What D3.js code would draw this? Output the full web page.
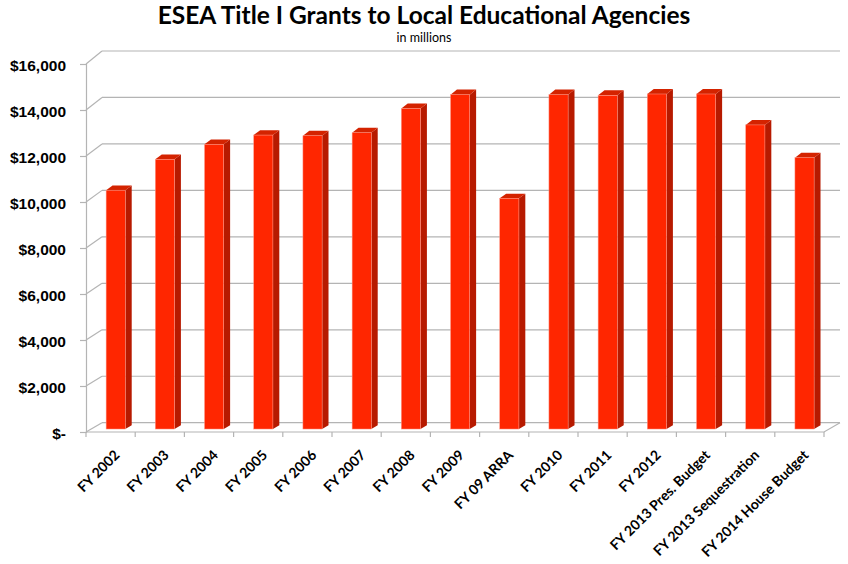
<!DOCTYPE html>
<html>
<head>
<meta charset="utf-8">
<script src="https://cdn.jsdelivr.net/npm/d3@7"></script>
<style>
  body { margin: 0; background: #fff; }
  svg { display: block; font-family: Lato, "Open Sans", sans-serif; }
</style>
</head>
<body>
<script>
const categories = ["FY 2002", "FY 2003", "FY 2004", "FY 2005", "FY 2006", "FY 2007", "FY 2008",
  "FY 2009", "FY 09 ARRA", "FY 2010", "FY 2011", "FY 2012", "FY 2013 Pres. Budget",
  "FY 2013 Sequestration", "FY 2014 House Budget"];
const values = [10350, 11690, 12340, 12740, 12710, 12840, 13890, 14490, 10000, 14490, 14460,
  14520, 14520, 13180, 11760];
const yTicks = [0, 2000, 4000, 6000, 8000, 10000, 12000, 14000, 16000];

const width = 848, height = 564;
const depth = {x: 16, top: -13, bottom: -9.3};   // offset of the back wall
const barDepth = [0.32, 0.72];                   // bar front / back in the depth

const svg = d3.select("body").append("svg")
    .attr("width", width)
    .attr("height", height);

const x = d3.scaleBand().domain(categories).range([86, 824]);
const yFront = d3.scaleLinear().domain([0, 16000]).range([432, 64]);
const yBack = d3.scaleLinear().domain([0, 16000]).range([432 + depth.bottom, 64 + depth.top]);

const px = (xf, t) => xf + depth.x * t;
const py = (v, t) => yFront(v) * (1 - t) + yBack(v) * t;

const grid = "#b4b4b4";

// back wall gridlines
svg.append("g")
    .attr("stroke", grid)
    .attr("stroke-width", 1.2)
  .selectAll("line")
  .data(yTicks)
  .join("line")
    .attr("x1", px(86, 1)).attr("x2", px(824, 1))
    .attr("y1", d => yBack(d)).attr("y2", d => yBack(d));

// side wall diagonals
svg.append("g")
    .attr("stroke", grid)
    .attr("stroke-width", 1.2)
  .selectAll("line")
  .data(yTicks)
  .join("line")
    .attr("x1", 86).attr("x2", px(86, 1))
    .attr("y1", d => yFront(d)).attr("y2", d => yBack(d));

// floor
svg.append("path")
    .attr("fill", "none")
    .attr("stroke", grid)
    .attr("stroke-width", 1.2)
    .attr("d", d3.line()([[86, yFront(0)], [824, yFront(0)], [px(824, 1), yBack(0)]]));

// bars
const bw = x.bandwidth() * 0.39;
const bar = svg.append("g")
  .selectAll("g")
  .data(values)
  .join("g");

const [t1, t2] = barDepth;
const bx0 = (d, i) => x(categories[i]) + (x.bandwidth() - bw) / 2;
const bx1 = (d, i) => bx0(d, i) + bw;

bar.append("path")
    .attr("fill", "#b71a00")
    .attr("d", (d, i) => d3.line()([
      [px(bx1(d, i), t1), py(d, t1)], [px(bx1(d, i), t2), py(d, t2)],
      [px(bx1(d, i), t2), py(0, t2)], [px(bx1(d, i), t1), py(0, t1)]]) + "Z");

bar.append("path")
    .attr("fill", "#d42300")
    .attr("d", (d, i) => d3.line()([
      [px(bx0(d, i), t1), py(d, t1)], [px(bx1(d, i), t1), py(d, t1)],
      [px(bx1(d, i), t2), py(d, t2)], [px(bx0(d, i), t2), py(d, t2)]]) + "Z");

bar.append("rect")
    .attr("fill", "#ff2600")
    .attr("stroke", "#ff9a8a")
    .attr("stroke-width", 0.5)
    .attr("x", (d, i) => px(bx0(d, i), t1))
    .attr("y", d => py(d, t1))
    .attr("width", bw)
    .attr("height", d => py(0, t1) - py(d, t1));

// y axis
const yAxis = svg.append("g")
    .attr("transform", "translate(86,0)")
    .call(d3.axisLeft(yFront)
      .tickValues(yTicks)
      .tickSize(6)
      .tickPadding(14)
      .tickFormat(d => d === 0 ? "$-" : "$" + d3.format(",")(d)));

yAxis.select(".domain").attr("stroke", grid).attr("stroke-width", 1.2);
yAxis.selectAll(".tick line").attr("stroke", grid).attr("stroke-width", 1.2);
yAxis.selectAll(".tick text")
    .attr("fill", "#000")
    .attr("dy", "0.45em")
    .style("font-size", "15.5px")
    .style("font-weight", "bold");

// x axis
svg.append("g")
    .attr("stroke", grid)
    .attr("stroke-width", 1.2)
  .selectAll("line")
  .data(categories.concat([null]))
  .join("line")
    .attr("x1", (d, i) => 86 + i * x.step()).attr("x2", (d, i) => 86 + i * x.step())
    .attr("y1", yFront(0)).attr("y2", yFront(0) + 5);

svg.append("g")
  .selectAll("text")
  .data(categories)
  .join("text")
    .attr("transform", d => `translate(${x(d) + x.bandwidth() / 2 + 10},456) rotate(-45)`)
    .attr("text-anchor", "end")
    .style("font-size", "14px")
    .style("font-weight", "bold")
    .text(d => d);

// title
svg.append("text")
    .attr("x", 424)
    .attr("y", 24)
    .attr("text-anchor", "middle")
    .style("font-size", "24.5px")
    .style("font-weight", "bold")
    .text("ESEA Title I Grants to Local Educational Agencies");

svg.append("text")
    .attr("x", 424)
    .attr("y", 42)
    .attr("text-anchor", "middle")
    .style("font-size", "12.5px")
    .text("in millions");
</script>
</body>
</html>
